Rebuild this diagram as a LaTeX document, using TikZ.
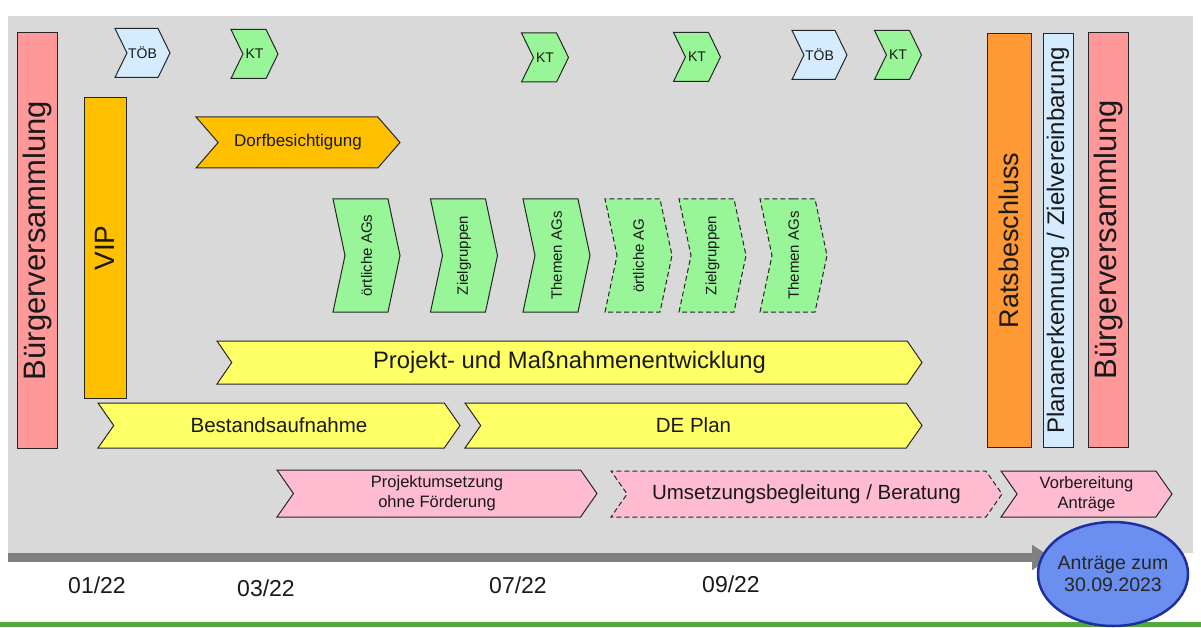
\documentclass[tikz,border=0pt]{standalone}
\usepackage{graphicx}
\usepackage{fontspec}
\setmainfont{Liberation Sans}
\usetikzlibrary{shapes.geometric,shapes.symbols}
\usetikzlibrary{arrows.meta}

\definecolor{panelgray}{HTML}{D9D9D9}
\definecolor{barpink}{HTML}{FF9999}
\definecolor{vipgold}{HTML}{FFC000}
\definecolor{ratorange}{HTML}{FF9933}
\definecolor{paleblue}{HTML}{D5EBFF}
\definecolor{agreen}{HTML}{98F598}
\definecolor{ayellow}{HTML}{FFFF66}
\definecolor{apink}{HTML}{FFBBD0}
\definecolor{linegray}{HTML}{808080}
\definecolor{dotblue}{HTML}{6A8FF0}
\definecolor{dotrim}{HTML}{1F2FA0}
\definecolor{rulegreen}{HTML}{50AA3C}

\tikzset{
  stage/.style={
    % The shape:
    shape=rectangle,rotate=90,inner sep=0pt,
    % The border:
    line width=1pt,draw=black!85,
    % The text:
    text=black!90,font=\fontsize{31pt}{34pt}\selectfont
  }}
\tikzset{
  phase/.style={
    % The shape: an arrow with a notch at its back
    shape=signal,signal to=east,signal from=west,
    signal pointer angle=110,inner sep=0pt,
    % The border:
    line width=1pt,draw=black!85,
    % The text:
    text=black!90,font=\fontsize{20.5pt}{23pt}\selectfont,align=center
  }}
\tikzset{
  marker/.style={
    phase,signal pointer angle=128,
    minimum height=49pt,minimum width=47pt,
    font=\fontsize{14pt}{16pt}\selectfont
  }}
\tikzset{
  agroup/.style={
    % The shape: a tall arrow, the text is turned inside
    phase,signal pointer angle=156,
    minimum width=67pt,minimum height=113pt,fill=agreen,
    font=\fontsize{15pt}{17pt}\selectfont
  }}
\tikzset{
  planned/.style={dash pattern=on 5pt off 3pt},
  timeline/.style={line width=9pt,draw=linegray,-{Triangle[length=20pt,width=24pt]}},
  month/.style={text=black!90,font=\fontsize{23pt}{25pt}\selectfont},
  goal/.style={
    shape=ellipse,minimum width=150pt,minimum height=104pt,
    inner xsep=-12pt,inner ysep=0pt,
    line width=2.5pt,draw=dotrim,fill=dotblue,
    text=black!85,align=center,font=\fontsize{19.5pt}{22pt}\selectfont
  }}

\begin{document}
\begin{tikzpicture}[x=1pt,y=-1pt]
  \useasboundingbox (0,0) rectangle (1201,628);
  % The grey panel
  \fill[panelgray] (8,16) rectangle (1193,553);
  % Bars at the start and at the end
  \node[stage,fill=barpink,minimum width=415pt,minimum height=40pt] (bvstart) at (37,240.5) {Bürgerversammlung};
  \node[stage,fill=vipgold,minimum width=300pt,minimum height=42pt,font=\fontsize{28pt}{30pt}\selectfont] (vip) at (105,248) {VIP};
  \node[stage,fill=ratorange,minimum width=413pt,minimum height=44pt,font=\fontsize{27pt}{30pt}\selectfont] (rat) at (1009,240.5) {Ratsbeschluss};
  \node[stage,fill=paleblue,minimum width=413pt,minimum height=30pt,font=\fontsize{24pt}{26pt}\selectfont] (plan) at (1058,240.5) {Plananerkennung / Zielvereinbarung};
  \node[stage,fill=barpink,minimum width=414pt,minimum height=40pt] (bvend) at (1108,240) {Bürgerversammlung};
  % Meetings along the top
  \node[marker,fill=paleblue,minimum width=55pt] (toeba) at (142.5,53) {TÖB};
  \node[marker,fill=agreen] (kta) at (254.5,54) {KT};
  \node[marker,fill=agreen] (ktb) at (545,57.5) {KT};
  \node[marker,fill=agreen] (ktc) at (697,57) {KT};
  \node[marker,fill=paleblue,minimum width=55pt] (toebb) at (819.5,55) {TÖB};
  \node[marker,fill=agreen] (ktd) at (898,55) {KT};
  \node[phase,fill=vipgold,signal pointer angle=98,minimum width=204pt,minimum height=51pt,
    font=\fontsize{17pt}{19pt}\selectfont] (dorf) at (298,142.5) {Dorfbesichtigung};
  % Working groups
  \node[agroup] (aga) at (366.5,255.5) {\rotatebox{90}{örtliche AGs}};
  \node[agroup] (agb) at (464,255.5) {\rotatebox{90}{Zielgruppen}};
  \node[agroup] (agc) at (556.5,255.5) {\rotatebox{90}{Themen AGs}};
  \node[agroup,planned] (agd) at (638.5,255.5) {\rotatebox{90}{örtliche AG}};
  \node[agroup,planned] (age) at (712.5,255.5) {\rotatebox{90}{Zielgruppen}};
  \node[agroup,planned] (agf) at (793.5,255.5) {\rotatebox{90}{Themen AGs}};
  % The long phases
  \node[phase,fill=ayellow,signal pointer angle=111,minimum width=705pt,minimum height=43pt,
    font=\fontsize{23.8pt}{26pt}\selectfont] (projekt) at (569.5,362.5) {Projekt- und Maßnahmenentwicklung};
  \node[phase,fill=ayellow,minimum width=362pt,minimum height=45pt] (bestand) at (279,425.5) {Bestandsaufnahme};
  \node[phase,fill=ayellow,minimum width=457pt,minimum height=45pt] (deplan) at (693.5,425.5) {DE Plan};
  \node[phase,fill=apink,minimum width=320pt,minimum height=47pt,
    font=\fontsize{16.5pt}{20pt}\selectfont] (umsetz) at (437,493.5) {Projektumsetzung\\ohne Förderung};
  \node[phase,fill=apink,planned,minimum width=391pt,minimum height=46pt] (begleit) at (806.5,494) {Umsetzungsbegleitung / Beratung};
  \node[phase,fill=apink,minimum width=171pt,minimum height=46pt,
    font=\fontsize{16.5pt}{20pt}\selectfont] (vorber) at (1086.5,494) {Vorbereitung\\Anträge};
  % The time line
  \coordinate (tstart) at (8,557.5);
  \coordinate (tend) at (1052,557.5);
  \draw[timeline] (tstart) -- (tend);
  \draw[rulegreen,line width=5pt] (0,624.5) -- (1201,624.5);
  \node[month] (jan) at (97,585) {01/22};
  \node[month] (mar) at (266,588) {03/22};
  \node[month] (jul) at (518,585) {07/22};
  \node[month] (sep) at (731,584) {09/22};
  \node[goal] (antrag) at (1113,574) {Anträge zum\\30.09.2023};
\end{tikzpicture}
\end{document}
